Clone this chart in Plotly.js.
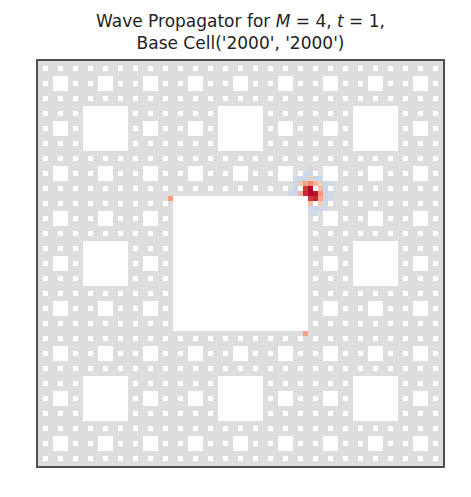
<!DOCTYPE html>
<html>
<head>
<meta charset="utf-8">
<script src="https://cdn.plot.ly/plotly-3.0.1.min.js"></script>
<style>
  html, body { margin: 0; padding: 0; background: #fff; }
  #chart { width: 471px; height: 497px; }
</style>
</head>
<body>
<div id="chart"></div>
<script>
// carpet level and time step
var M = 4;
var tStep = 1;

// non-zero propagator values: [row, col, value]
var sourceCells = [
    [23, 54, 0.15],
    [24, 52, 0.25], [24, 53, 0.45], [24, 54, 0.55], [24, 55, 0.35], [24, 56, 0.15],
    [25, 53, 0.85], [25, 54, 1.0],  [25, 56, 0.3],
    [26, 52, 0.35], [26, 53, 0.9],  [26, 54, 1.0],  [26, 55, 0.95], [26, 56, 0.5],
    [27, 54, 0.85], [27, 55, 0.9],  [27, 56, 0.4],
    [28, 54, 0.3],  [28, 55, 0.4],  [28, 56, 0.2]
];
var haloCells = [
    [21, 54, -0.06],
    [22, 53, -0.1], [22, 54, -0.12], [22, 55, -0.1],
    [23, 51, -0.08], [23, 52, -0.12], [23, 53, -0.12], [23, 55, -0.14], [23, 56, -0.12], [23, 57, -0.08],
    [24, 51, -0.12], [24, 57, -0.14], [24, 58, -0.08],
    [25, 51, -0.12], [25, 57, -0.14], [25, 58, -0.08],
    [26, 50, -0.08], [26, 51, -0.12], [26, 57, -0.14], [26, 58, -0.1],
    [27, 57, -0.14], [27, 58, -0.08],
    [28, 57, -0.12],
    [29, 54, -0.1], [29, 55, -0.12], [29, 56, -0.1], [29, 57, -0.06],
    [30, 54, -0.06], [30, 55, -0.06]
];
var cornerCells = [
    [27, 26, 0.5],
    [54, 53, 0.45]
];

// matplotlib coolwarm
var coolwarm = [
    [0.0, 'rgb(59,76,192)'],
    [0.125, 'rgb(98,130,234)'],
    [0.25, 'rgb(141,176,254)'],
    [0.375, 'rgb(184,208,249)'],
    [0.5, 'rgb(221,221,221)'],
    [0.625, 'rgb(245,196,173)'],
    [0.75, 'rgb(244,154,123)'],
    [0.875, 'rgb(222,96,77)'],
    [1.0, 'rgb(180,4,38)']
];

function inCarpet(r, c) {
    while (r > 0 || c > 0) {
        if (r % 3 === 1 && c % 3 === 1) return false;
        r = Math.floor(r / 3);
        c = Math.floor(c / 3);
    }
    return true;
}

var n = Math.pow(3, M);
var z = [];
for (var r = 0; r < n; r++) {
    var row = [];
    for (var c = 0; c < n; c++) {
        row.push(inCarpet(r, c) ? 0 : null);
    }
    z.push(row);
}
sourceCells.concat(haloCells, cornerCells).forEach(function(p) {
    if (z[p[0]][p[1]] !== null) z[p[0]][p[1]] = p[2];
});

var trace = {
    z: z,
    type: 'heatmap',
    colorscale: coolwarm,
    zmin: -1,
    zmax: 1,
    zsmooth: false,
    showscale: false,
    hoverinfo: 'skip'
};

var layout = {
    width: 471,
    height: 497,
    margin: {l: 38, r: 28, t: 61, b: 31},
    paper_bgcolor: '#ffffff',
    plot_bgcolor: '#ffffff',
    font: {family: 'DejaVu Sans, sans-serif', color: '#222'},
    title: {
        text: 'Wave Propagator for <i>M</i> = ' + M + ', <i>t</i> = ' + tStep + ',<br>Base Cell(\'2000\', \'2000\')',
        font: {size: 17, family: 'DejaVu Sans, sans-serif', color: '#222'},
        x: 0.5,
        xref: 'paper',
        y: 0.946,
        yref: 'container',
        yanchor: 'bottom'
    },
    xaxis: {
        range: [-0.5, n - 0.5],
        showticklabels: false,
        ticks: '',
        showgrid: false,
        zeroline: false,
        showline: true,
        mirror: true,
        linecolor: '#505050',
        linewidth: 2
    },
    yaxis: {
        range: [n - 0.5, -0.5],
        showticklabels: false,
        ticks: '',
        showgrid: false,
        zeroline: false,
        showline: true,
        mirror: true,
        linecolor: '#505050',
        linewidth: 2
    }
};

Plotly.newPlot('chart', [trace], layout, {displayModeBar: false, staticPlot: true});
</script>
</body>
</html>
